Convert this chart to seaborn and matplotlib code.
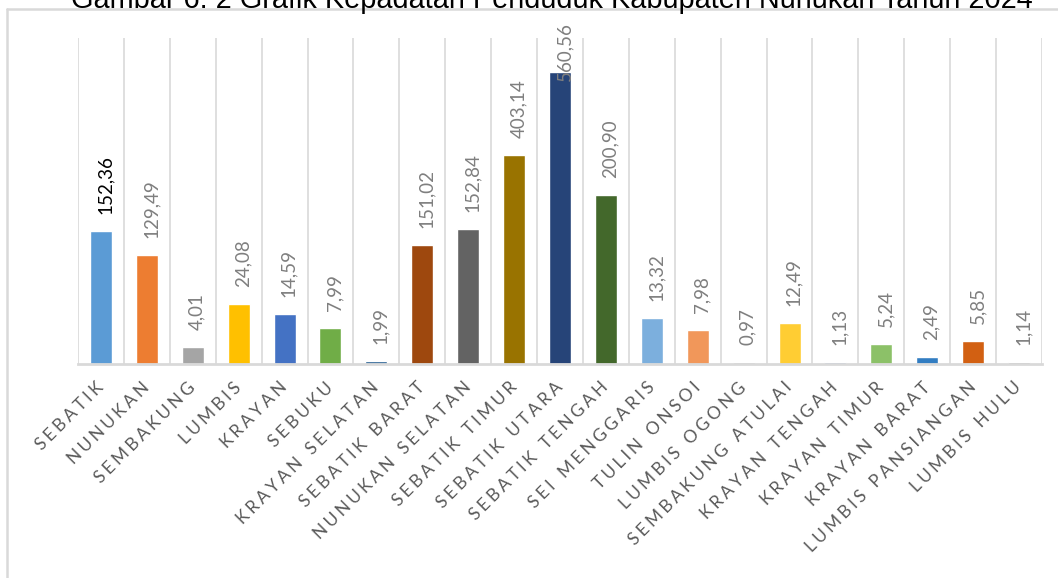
import matplotlib
matplotlib.use("Agg")
import matplotlib.pyplot as plt
from matplotlib.lines import Line2D
import seaborn as sns

# kecamatan (districts) in the order of the chart
kecamatan = ["SEBATIK", "NUNUKAN", "SEMBAKUNG", "LUMBIS", "KRAYAN", "SEBUKU",
             "KRAYAN SELATAN", "SEBATIK BARAT", "NUNUKAN SELATAN", "SEBATIK TIMUR",
             "SEBATIK UTARA", "SEBATIK TENGAH", "SEI MENGGARIS", "TULIN ONSOI",
             "LUMBIS OGONG", "SEMBAKUNG ATULAI", "KRAYAN TENGAH", "KRAYAN TIMUR",
             "KRAYAN BARAT", "LUMBIS PANSIANGAN", "LUMBIS HULU"]

# population density printed above each bar
kepadatan = [152.36, 129.49, 4.01, 24.08, 14.59, 7.99, 1.99, 151.02, 152.84, 403.14,
             560.56, 200.90, 13.32, 7.98, 0.97, 12.49, 1.13, 5.24, 2.49, 5.85, 1.14]

# bar lengths as drawn in the picture (percent of plot height) - they don't
# follow the printed values, so they are read separately
tinggi_batang = [40.8, 33.4, 5.2, 18.4, 15.3, 11.0, 0.9, 36.5, 41.4, 64.1,
                 89.6, 51.8, 14.1, 10.4, 0.6, 12.6, 0.6, 6.1, 2.1, 7.1, 0.6]

warna = ["#5b9bd5", "#ed7d31", "#a5a5a5", "#ffc000", "#4472c4", "#70ad47",
         "#255e91", "#9e480e", "#636363", "#997300", "#264478", "#43682b",
         "#7cafdd", "#f1975a", "#b7b7b7", "#ffcd33", "#698ed0", "#8cc168",
         "#327dc2", "#d26012", "#848484"]

judul = "Gambar 6. 2 Grafik Kepadatan Penduduk Kabupaten Nunukan Tahun 2024"


def spaced(name):
    # imitate the wide letter tracking of the original axis labels
    gap = "\u2009\u200a"
    return (gap + "\u2002").join(gap.join(word) for word in name.split(" "))


sns.set_style("white")
plt.rcParams['font.family'] = ['Lato', 'DejaVu Sans']

fig = plt.figure(figsize=(10.58, 5.78), dpi=100)
ax = fig.add_axes([78 / 1058, 1 - 364 / 578, 964 / 1058, 326 / 578])

sns.barplot(x=kecamatan, y=tinggi_batang, hue=kecamatan, palette=warna,
            legend=False, width=0.48, saturation=1, ax=ax)

ax.set_xlim(-0.5, len(kecamatan) - 0.5)
ax.set_ylim(0, 100)
ax.set_yticks([])
ax.set_xlabel("")
ax.set_ylabel("")

# vertical separators between categories
ax.set_xticks([i - 0.5 for i in range(len(kecamatan) + 1)], minor=True)
ax.grid(True, which="minor", axis="x", color="#d9d9d9", linewidth=1.2)
ax.tick_params(which="both", length=0)

for side in ["top", "left", "right"]:
    ax.spines[side].set_visible(False)
ax.spines["bottom"].set_color("#d9d9d9")
ax.spines["bottom"].set_linewidth(2)

ax.set_xticks(range(len(kecamatan)))
ax.set_xticklabels([spaced(k) for k in kecamatan], rotation=45, ha="right",
                   va="center", rotation_mode="anchor", fontsize=12.5,
                   color="#595959")
ax.tick_params(axis="x", pad=15)

# rotated value labels; the tallest one is kept inside the frame
for i, (h, v) in enumerate(zip(tinggi_batang, kepadatan)):
    txt = f"{v:.2f}".replace(".", ",")
    warna_teks = "black" if i == 0 else "#7f7f7f"
    if h > 80:
        ax.text(i + 0.1, 105, txt, rotation=90, ha="center", va="top",
                fontsize=13.5, color=warna_teks, clip_on=False)
    else:
        ax.annotate(txt, (i, h), xytext=(3, 12), textcoords="offset points",
                    rotation=90, ha="center", va="bottom", fontsize=13.5,
                    color=warna_teks, annotation_clip=False)

# chart frame (left and top edge visible in the crop)
fig.add_artist(Line2D([7 / 1058, 7 / 1058], [0, 1 - 9 / 578],
                      transform=fig.transFigure, color="#d9d9d9", linewidth=1.8))
fig.add_artist(Line2D([7 / 1058, 1], [1 - 9 / 578, 1 - 9 / 578],
                      transform=fig.transFigure, color="#d9d9d9", linewidth=1.8))

fig.text(552 / 1058, 1 - 8 / 578, judul, ha="center", va="baseline",
         fontsize=20.8, family=["Liberation Sans", "DejaVu Sans"], color="black")

fig.savefig("out.png", dpi=100)
plt.close(fig)
